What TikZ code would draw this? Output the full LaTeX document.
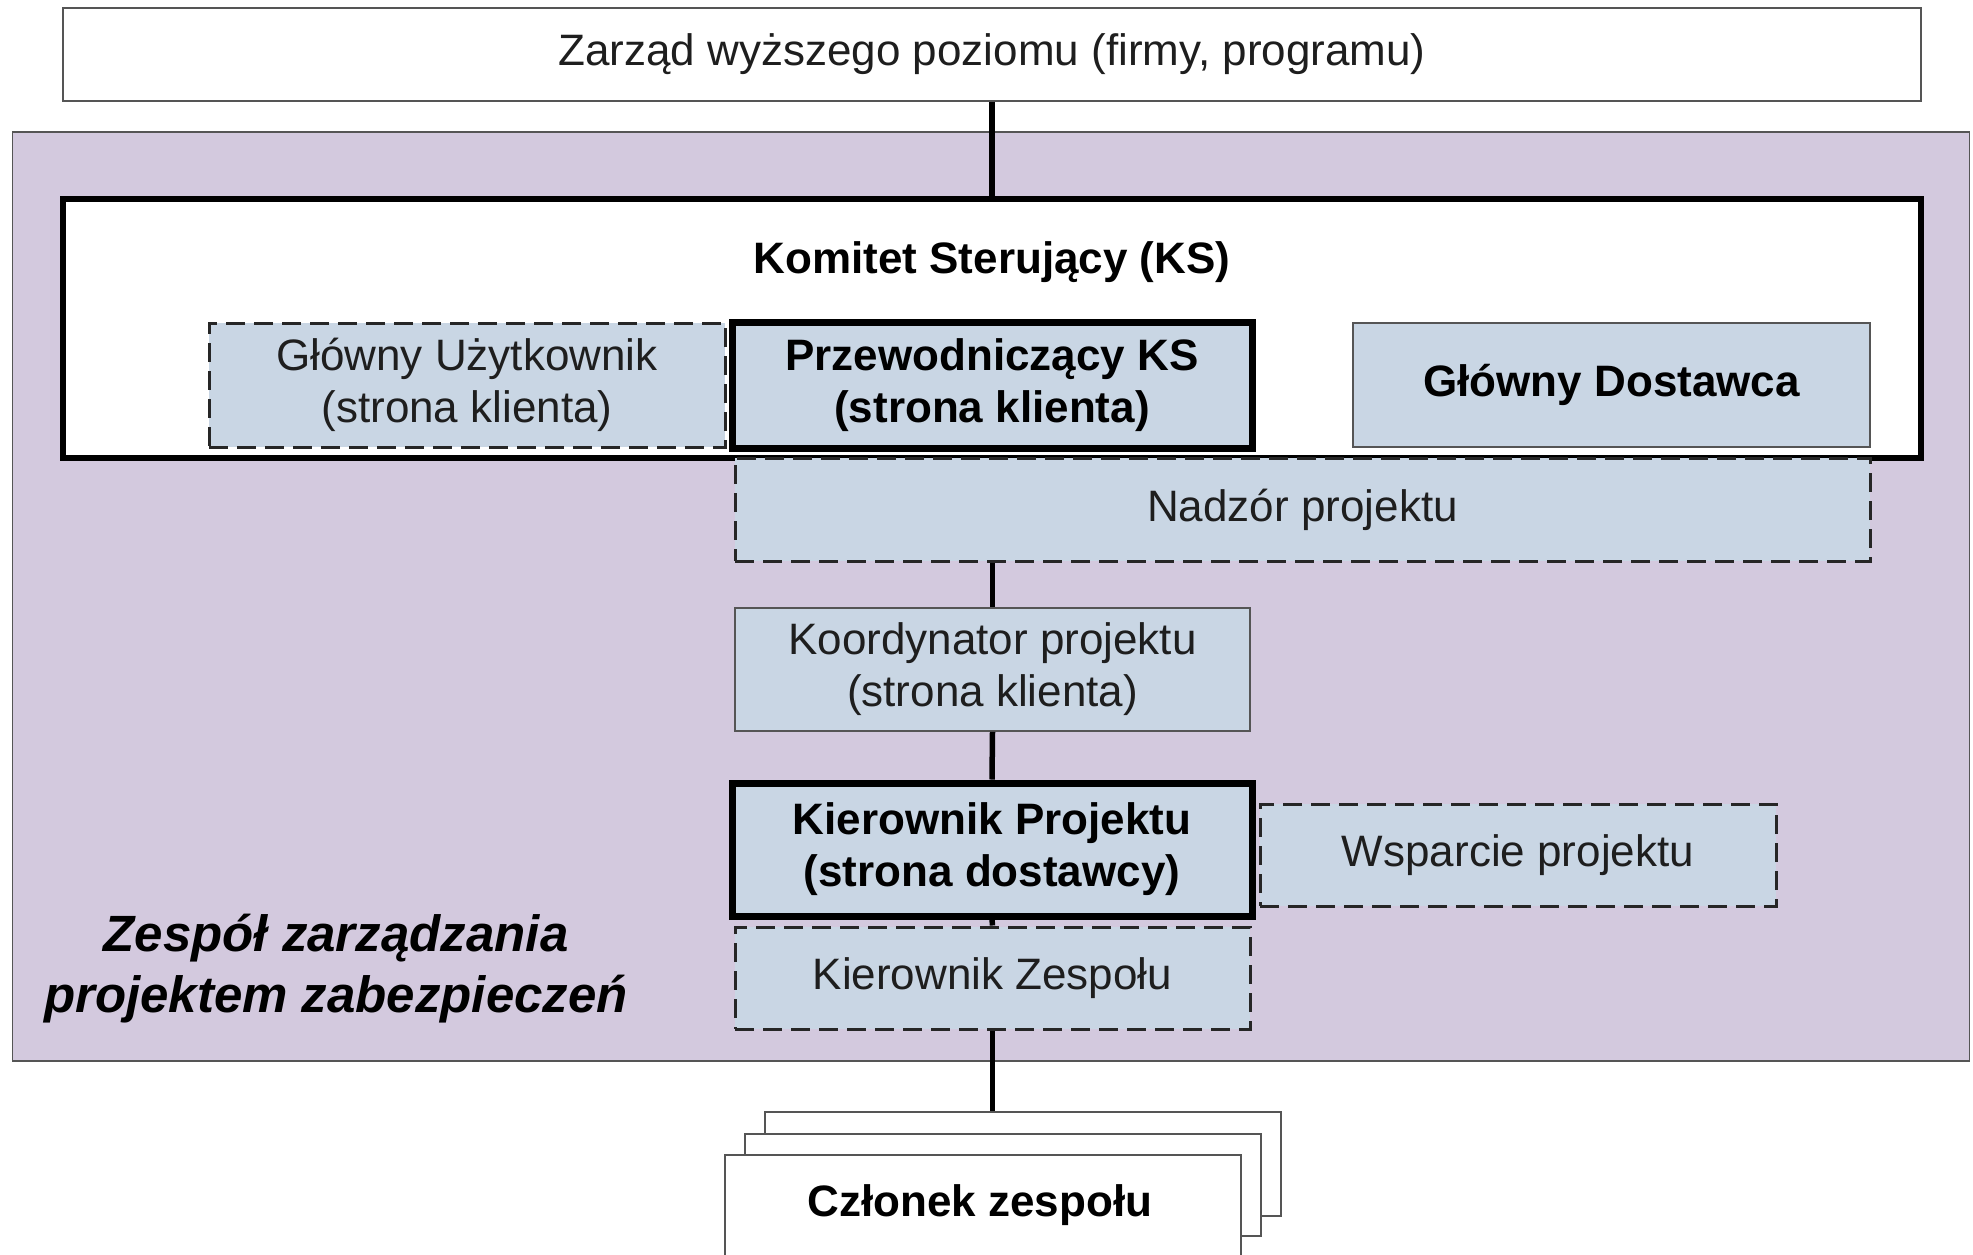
\documentclass[tikz,border=0pt]{standalone}
\usepackage{fontspec}
\setmainfont{Liberation Sans}
\definecolor{teamfill}{HTML}{D3C9DE}
\definecolor{rolefill}{HTML}{C9D6E4}
\definecolor{edgegray}{HTML}{555555}
\definecolor{txtgray}{HTML}{1E1E1E}
\begin{document}
\begin{tikzpicture}[x=1pt,y=-1pt,
  base/.style={inner sep=0pt, align=center, font=\fontsize{44}{52}\selectfont, text=txtgray},
  plainbox/.style={base, draw=edgegray, line width=1.8pt, fill=rolefill},
  dashbox/.style={base, draw=black!85, line width=3pt, dash pattern=on 19pt off 9pt, fill=rolefill},
  boldbox/.style={base, draw=black, line width=7pt, fill=rolefill, text=black, font=\fontsize{44}{52}\selectfont\bfseries},
  card/.style={base, draw=edgegray, line width=1.8pt, fill=white},
  conn/.style={draw=black, line width=5.5pt},
  sz/.style 2 args={minimum width=#1pt, minimum height=#2pt}]
\useasboundingbox (0,0) rectangle (1973,1254);
\clip (0,0) rectangle (1973,1254);

% upper management
\node[base, draw=edgegray, line width=2pt, fill=white, sz={1858}{93}] (top) at (992,54)
  {\raisebox{-3pt}{Zarząd wyższego poziomu (firmy, programu)}};

% project management team area
\node[draw=edgegray, line width=1.8pt, fill=teamfill, inner sep=0pt, sz={1957}{929}] (team) at (991,596.5) {};

% steering committee frame
\node[draw=black, line width=6pt, fill=white, inner sep=0pt, sz={1858}{259}] (ks) at (992,328.5) {};
\node[base, text=black, font=\fontsize{44}{52}\selectfont\bfseries] (kstitle) at (992,262) {Komitet Sterujący (KS)};

\node[dashbox, sz={516}{124}] (gu) at (467,385) {Główny Użytkownik\\(strona klienta)};
\node[boldbox, sz={520}{126}] (pks) at (992,385) {Przewodniczący KS\\(strona klienta)};
\node[plainbox, text=black, font=\fontsize{44}{52}\selectfont\bfseries, sz={517}{124}] (gd) at (1611.5,385) {Główny Dostawca};

\node[dashbox, sz={1135}{103}] (nadzor) at (1302.5,509.5) {Nadzór projektu};

\node[plainbox, sz={515}{123}] (koord) at (992.5,669.5) {Koordynator projektu\\(strona klienta)};
\node[boldbox, sz={520}{133}] (kp) at (992,849.5) {Kierownik Projektu\\(strona dostawcy)};
\node[dashbox, sz={516}{102}] (wsp) at (1518,855) {Wsparcie projektu};
\node[dashbox, sz={515}{102}] (kz) at (992.5,978) {Kierownik Zespołu};

\node[base, text=black, font=\fontsize{51}{61}\selectfont\bfseries\itshape] (teamlabel) at (336,969)
  {Zespół zarządzania\\projektem zabezpieczeń};

% stacked team member cards
\node[card, sz={516}{104}] (cardback) at (1023,1164) {};
\node[card, sz={516}{102}] (cardmid) at (1003,1185) {};
\node[card, sz={516}{135}] (member) at (983,1222.5) {};
\node[base, text=black, font=\fontsize{44}{52}\selectfont\bfseries] (membertext) at (980,1205) {Członek zespołu};

% reporting lines
\draw[conn] (top.south) -- (ks.north);
\draw[conn] (koord.north |- nadzor.south) -- (koord.north);
\draw[conn] (koord.south) -- (kp.north);
\draw[conn] (kp.south) -- (kz.north);
\draw[conn] (kz.south) -- (kz.south |- cardback.north);
\end{tikzpicture}
\end{document}
